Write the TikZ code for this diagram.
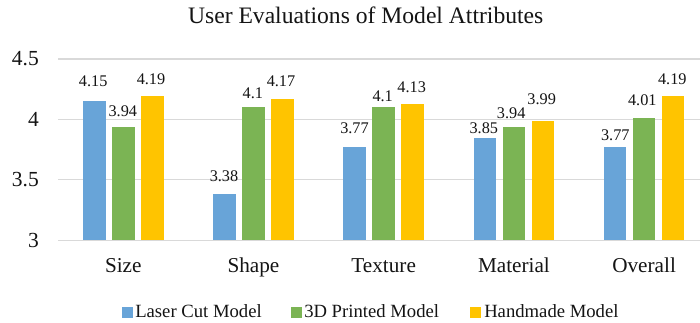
\documentclass[tikz,border=0pt]{standalone}
\usepackage{fontspec}
\setmainfont{Liberation Serif}
\definecolor{cLaser}{RGB}{104,164,216}
\definecolor{cPrint}{RGB}{123,180,84}
\definecolor{cHand}{RGB}{255,196,0}
\definecolor{cGrid}{RGB}{217,217,217}
\definecolor{cText}{RGB}{20,20,20}
\begin{document}
\begin{tikzpicture}[x=0.75pt,y=-0.75pt,
  gridline/.style={draw=cGrid,line width=0.9pt},
  ticklbl/.style={anchor=east,inner sep=0pt,text=cText,font=\fontsize{16.1pt}{18pt}\selectfont},
  catlbl/.style={anchor=base,inner sep=0pt,text=cText,font=\fontsize{15.9pt}{18pt}\selectfont},
  datalbl/.style={inner sep=0pt,text=cText,font=\fontsize{12.2pt}{14pt}\selectfont},
  leglbl/.style={anchor=base west,inner sep=0pt,text=cText,font=\fontsize{14pt}{16pt}\selectfont},
  titlelbl/.style={anchor=base,inner sep=0pt,text=cText,font=\fontsize{17.7pt}{20pt}\selectfont},
  legkey/.style={minimum size=8pt,inner sep=0pt,anchor=north west}]
\useasboundingbox (0,0) rectangle (700,322);
\fill[white] (0,0) rectangle (700,322);

% title
\node[titlelbl] (title) at (365.7,23.3) {User Evaluations of Model Attributes};

% horizontal gridlines and value axis labels
\foreach \v/\nm in {3/a,3.5/b,4/c,4.5/d}{
  \pgfmathsetmacro{\yy}{240.3-(\v-3)*120.87}
  \coordinate (gl-\nm) at (58,\yy);
  \coordinate (gr-\nm) at (700,\yy);
  \draw[gridline] (gl-\nm) -- (gr-\nm);
  \node[ticklbl] (tick-\nm) at (39,\yy) {\v};
}

% bars: laser cut, 3D printed, handmade
\foreach \i/\a/\b/\c in {0/4.15/3.94/4.19,1/3.38/4.1/4.17,2/3.77/4.1/4.13,3/3.85/3.94/3.99,4/3.77/4.01/4.19}{
  \pgfmathsetmacro{\cx}{123.3+130.2*\i}
  \foreach \k/\v/\col in {-1/\a/cLaser,0/\b/cPrint,1/\c/cHand}{
    \pgfmathsetmacro{\top}{240.3-(\v-3)*120.87}
    \pgfmathsetmacro{\xl}{\cx+29*\k-11.35}
    \pgfmathsetmacro{\xr}{\cx+29*\k+11.35}
    \fill[\col] (\xl,240.3) rectangle (\xr,\top);
  }
}

% value labels
\foreach \n/\xx/\yy/\t in {
  sz1/93.2/81.7/4.15, sz2/122.8/111/3.94, sz3/151/79/4.19,
  sh1/224/176/3.38, sh2/252.8/93.3/4.1, sh3/281/81.7/4.17,
  tx1/354.5/128.3/3.77, tx2/382.7/96.7/4.1, tx3/411.7/87.3/4.13,
  mt1/483.8/128.3/3.85, mt2/511.2/113.3/3.94, mt3/541.7/99.3/3.99,
  ov1/615.3/135/3.77, ov2/642.3/100/4.01, ov3/672.3/79/4.19}{
  \node[datalbl] (val-\n) at (\xx,\yy) {\t};
}

% category labels
\foreach \i/\t in {0/Size,1/Shape,2/Texture,3/Material,4/Overall}{
  \pgfmathsetmacro{\cx}{123.3+130.2*\i}
  \node[catlbl] (cat-\i) at (\cx,272.5) {\t};
}

% legend
\node[legkey,fill=cLaser] (key-laser) at (121.7,306.7) {};
\node[leglbl] (leg-laser) at (135,317.7) {Laser Cut Model};
\node[legkey,fill=cPrint] (key-print) at (291,306.7) {};
\node[leglbl] (leg-print) at (304,317.7) {3D Printed Model};
\node[legkey,fill=cHand] (key-hand) at (470,306.7) {};
\node[leglbl] (leg-hand) at (484,317.7) {Handmade Model};
\end{tikzpicture}
\end{document}
